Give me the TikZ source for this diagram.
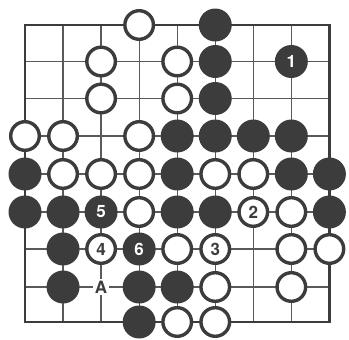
\documentclass[tikz,border=0pt]{standalone}
\usepackage{fontspec}
\setmainfont{TeX Gyre Heros}
\definecolor{ink}{HTML}{3C3C3C}
\definecolor{gridc}{HTML}{5A5A5A}
\tikzset{
  gridline/.style={draw=gridc, line width=1.3pt},
  border/.style={draw=ink, line width=2.4pt},
  bst/.style={circle, fill=ink, draw=none, minimum size=33pt, inner sep=0pt,
    text=white, font=\fontsize{17}{17}\selectfont\bfseries},
  wst/.style={circle, fill=white, draw=ink, line width=3.4pt, minimum size=28.6pt, inner sep=0pt,
    text=ink, font=\fontsize{17}{17}\selectfont\bfseries},
  lbl/.style={fill=white, inner sep=2pt, text=ink, font=\fontsize{17}{17}\selectfont\bfseries}
}
\begin{document}
\begin{tikzpicture}[x=1pt,y=-1pt]
\useasboundingbox (0,0) rectangle (349,340);
\fill[white] (0,0) rectangle (349,340);
\foreach \r/\y in {0/25,1/61.5,2/98.5,3/136,4/174,5/212,6/249,7/287,8/322}
  \foreach \c in {0,...,8}
    \coordinate (p-\c-\r) at ({25+38.05*\c},\y);
\foreach \i in {1,...,7} {
  \draw[gridline] (p-0-\i) -- (p-8-\i);
  \draw[gridline] (p-\i-0) -- (p-\i-8);
}
\draw[border] (p-0-0) rectangle (p-8-8);
% row 0
\node[wst] (w-3-0) at (p-3-0) {};
\node[bst] (b-5-0) at (p-5-0) {};
% row 1
\node[wst] (w-2-1) at (p-2-1) {};
\node[wst] (w-4-1) at (p-4-1) {};
\node[bst] (b-5-1) at (p-5-1) {};
\node[bst] (b-7-1) at (p-7-1) {1};
% row 2
\node[wst] (w-2-2) at (p-2-2) {};
\node[wst] (w-4-2) at (p-4-2) {};
\node[bst] (b-5-2) at (p-5-2) {};
% row 3
\node[wst] (w-0-3) at (p-0-3) {};
\node[wst] (w-1-3) at (p-1-3) {};
\node[wst] (w-3-3) at (p-3-3) {};
\node[bst] (b-4-3) at (p-4-3) {};
\node[bst] (b-5-3) at (p-5-3) {};
\node[bst] (b-6-3) at (p-6-3) {};
\node[bst] (b-7-3) at (p-7-3) {};
% row 4
\node[bst] (b-0-4) at (p-0-4) {};
\node[wst] (w-1-4) at (p-1-4) {};
\node[wst] (w-2-4) at (p-2-4) {};
\node[wst] (w-3-4) at (p-3-4) {};
\node[bst] (b-4-4) at (p-4-4) {};
\node[wst] (w-5-4) at (p-5-4) {};
\node[wst] (w-6-4) at (p-6-4) {};
\node[bst] (b-7-4) at (p-7-4) {};
\node[bst] (b-8-4) at (p-8-4) {};
% row 5
\node[bst] (b-0-5) at (p-0-5) {};
\node[bst] (b-1-5) at (p-1-5) {};
\node[bst] (b-2-5) at (p-2-5) {5};
\node[wst] (w-3-5) at (p-3-5) {};
\node[bst] (b-4-5) at (p-4-5) {};
\node[bst] (b-5-5) at (p-5-5) {};
\node[wst] (w-6-5) at (p-6-5) {2};
\node[wst] (w-7-5) at (p-7-5) {};
\node[bst] (b-8-5) at (p-8-5) {};
% row 6
\node[bst] (b-1-6) at (p-1-6) {};
\node[wst] (w-2-6) at (p-2-6) {4};
\node[bst] (b-3-6) at (p-3-6) {6};
\node[wst] (w-4-6) at (p-4-6) {};
\node[wst] (w-5-6) at (p-5-6) {3};
\node[wst] (w-7-6) at (p-7-6) {};
\node[wst] (w-8-6) at (p-8-6) {};
% row 7
\node[bst] (b-1-7) at (p-1-7) {};
\node[lbl] (a-2-7) at (p-2-7) {A};
\node[bst] (b-3-7) at (p-3-7) {};
\node[bst] (b-4-7) at (p-4-7) {};
\node[wst] (w-5-7) at (p-5-7) {};
\node[wst] (w-7-7) at (p-7-7) {};
% row 8
\node[bst] (b-3-8) at (p-3-8) {};
\node[wst] (w-4-8) at (p-4-8) {};
\node[wst] (w-5-8) at (p-5-8) {};
\end{tikzpicture}
\end{document}
